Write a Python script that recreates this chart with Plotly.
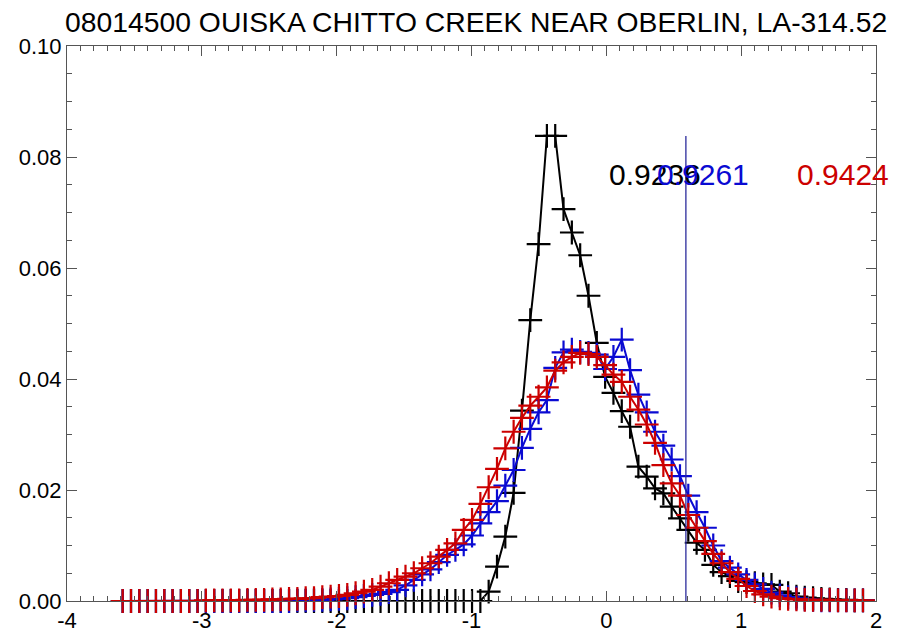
import numpy as np
import plotly.graph_objects as go

# Histogram bin layout shared by the three frequency curves
BIN_START = -3.587
BIN_WIDTH = 0.06169
N_BINS = 90

# Relative frequency per bin
black_freq = [0.0] * 44 + [
    0.0017, 0.0062, 0.0116, 0.0195, 0.0343, 0.0506, 0.0643, 0.0838, 0.0838, 0.0706,
    0.0664, 0.0623, 0.0550, 0.0465, 0.0404, 0.0375, 0.0342, 0.0314, 0.0242, 0.0224,
    0.0203, 0.0194, 0.0170, 0.0149, 0.0128, 0.0105, 0.0092, 0.0065, 0.0052, 0.0045,
    0.0036, 0.0034, 0.0032, 0.0030, 0.0029, 0.0017, 0.0014, 0.0008, 0.0006, 0.0005,
    0.0004, 0.0003, 0.0002, 0.0002, 0.0001, 0.0001,
]

blue_freq = [0.0] * 21 + [
    0.0001, 0.0001, 0.0002, 0.0002, 0.0003, 0.0004, 0.0005, 0.0007, 0.0009, 0.0011,
    0.0013, 0.0016, 0.0020, 0.0028, 0.0038, 0.0048, 0.0057, 0.0070, 0.0083, 0.0092,
    0.0102, 0.0118, 0.0140, 0.0160, 0.0180, 0.0208, 0.0236, 0.0276, 0.0310, 0.0340,
    0.0362, 0.0420, 0.0448, 0.0453, 0.0449, 0.0447, 0.0444, 0.0418, 0.0440, 0.0471,
    0.0416, 0.0372, 0.0340, 0.0305, 0.0280, 0.0255, 0.0225, 0.0190, 0.0160, 0.0132,
    0.0100, 0.0072, 0.0060, 0.0048, 0.0038, 0.0030, 0.0022, 0.0015, 0.0010, 0.0007,
    0.0005, 0.0003, 0.0002, 0.0001, 0.0001, 0.0001, 0.0001, 0.0001, 0.0001,
]

red_freq = [0.0] * 10 + [0.0001] * 5 + [0.0002] * 3 + [0.0003] * 2 + [
    0.0004, 0.0004, 0.0005, 0.0005, 0.0007, 0.0008, 0.0009, 0.0011, 0.0014, 0.0017,
    0.0020, 0.0026, 0.0032, 0.0038, 0.0044, 0.0050, 0.0059, 0.0068, 0.0080, 0.0092,
    0.0104, 0.0128, 0.0146, 0.0175, 0.0205, 0.0238, 0.0275, 0.0305, 0.0330, 0.0352,
    0.0368, 0.0385, 0.0415, 0.0430, 0.0440, 0.0447, 0.0445, 0.0440, 0.0425, 0.0408,
    0.0395, 0.0368, 0.0345, 0.0318, 0.0285, 0.0245, 0.0212, 0.0190, 0.0155, 0.0132,
    0.0108, 0.0085, 0.0068, 0.0052, 0.0040, 0.0027, 0.0018, 0.0012, 0.0008, 0.0005,
    0.0004, 0.0003, 0.0002, 0.0002, 0.0002, 0.0002, 0.0001, 0.0001, 0.0001, 0.0001,
]

# Summary statistics printed in each curve's colour
stat_labels = ["0.9236", "0.9261", "0.9424"]
stat_x = [0.019, 0.374, 1.413]
stat_y = 0.0769

marker_x = 0.59  # vertical reference line
title = "08014500 OUISKA CHITTO CREEK NEAR OBERLIN, LA-314.52"

x_ticks = [-4, -3, -2, -1, 0, 1, 2]
y_ticks = [0.00, 0.02, 0.04, 0.06, 0.08, 0.10]

BLACK = "#000000"
BLUE = "#0a0ad2"
RED = "#cc0000"
NAVY = "#2b2b9c"
FONT = "Liberation Sans, Arial, sans-serif"

x_bins = BIN_START + BIN_WIDTH * np.arange(N_BINS)

fig = go.Figure()
for freq, color in [(black_freq, BLACK), (blue_freq, BLUE), (red_freq, RED)]:
    fig.add_trace(go.Scatter(
        x=x_bins, y=freq, mode="lines+markers",
        line=dict(color=color, width=2),
        marker=dict(symbol="cross-thin", size=17,
                    line=dict(color=color, width=2.2)),
        showlegend=False, cliponaxis=False,
    ))

fig.add_shape(type="line", xref="x", yref="y",
              x0=marker_x, x1=marker_x, y0=0, y1=max(black_freq),
              line=dict(color=NAVY, width=1.3), layer="above")

for label, lx, color in zip(stat_labels, stat_x, [BLACK, BLUE, RED]):
    fig.add_annotation(x=lx, y=stat_y, xref="x", yref="y", text=label,
                       showarrow=False, xanchor="left", yanchor="middle",
                       xshift=-2, font=dict(family=FONT, size=30, color=color))

axis_common = dict(showgrid=False, zeroline=False, showline=True,
                   linecolor="#555555", linewidth=1, mirror="ticks",
                   ticks="inside", tickcolor="#555555", ticklen=10,
                   tickfont=dict(family=FONT, size=22, color="#000000"))

fig.update_xaxes(range=[-4, 2], tickvals=x_ticks,
                 ticktext=[str(v) for v in x_ticks],
                 minor=dict(ticks="inside", dtick=0.1, ticklen=5,
                            tickcolor="#555555"),
                 **axis_common)
fig.update_yaxes(range=[0, 0.10], tickvals=y_ticks,
                 ticktext=[f"{v:.2f}" for v in y_ticks],
                 minor=dict(ticks="inside", dtick=0.005, ticklen=5,
                            tickcolor="#555555"),
                 **axis_common)

fig.update_layout(
    width=913, height=638,
    margin=dict(l=67, r=37, t=46, b=37, autoexpand=False),
    paper_bgcolor="white", plot_bgcolor="white",
    title=dict(text=title, x=0.5215, xanchor="center", y=0.966, yanchor="middle",
               font=dict(family=FONT, size=28.3, color="#000000")),
)

fig.write_html("out.html")
